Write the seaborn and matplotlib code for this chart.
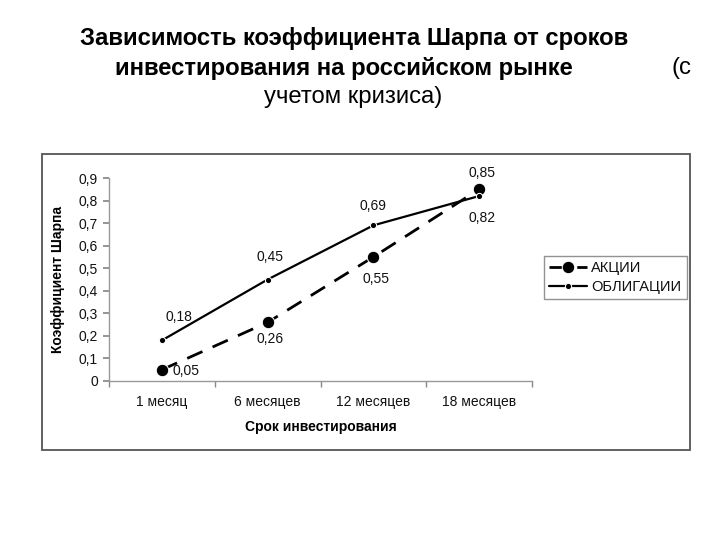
import matplotlib
matplotlib.use("Agg")
import matplotlib.pyplot as plt
import seaborn as sns
import pandas as pd
from matplotlib.patches import Rectangle
from matplotlib.ticker import FixedLocator

categories = ["1 месяц", "6 месяцев", "12 месяцев", "18 месяцев"]
stocks = [0.05, 0.26, 0.55, 0.85]
bonds = [0.18, 0.45, 0.69, 0.82]
yticks = [0, 0.1, 0.2, 0.3, 0.4, 0.5, 0.6, 0.7, 0.8, 0.9]
ytick_labels = ["0", "0,1", "0,2", "0,3", "0,4", "0,5", "0,6", "0,7", "0,8", "0,9"]

sns.set_theme(style="white")
plt.rcParams["font.family"] = ["Liberation Sans", "DejaVu Sans"]
plt.rcParams["text.color"] = "black"
plt.rcParams["axes.labelcolor"] = "black"

W, H = 720, 540
fig = plt.figure(figsize=(7.2, 5.4), dpi=100)

def fx(x):
    return x / W

def fy(y):
    return 1 - y / H

# outer frame
fig.patches.append(Rectangle((fx(41.5), fy(450)), fx(690) - fx(41.5), fy(154.5) - fy(450),
                             transform=fig.transFigure, fill=False, edgecolor="#555555", lw=1.3))

ax = fig.add_axes([fx(109), fy(381), fx(532) - fx(109), fy(178) - fy(381)])

df_s = pd.DataFrame({"cat": categories, "val": stocks})
df_b = pd.DataFrame({"cat": categories, "val": bonds})

sns.lineplot(data=df_s, x="cat", y="val", ax=ax, color="black", lw=2,
             marker="o", markersize=9, dashes=False, linestyle=(0, (6, 4)), label="АКЦИИ")
sns.lineplot(data=df_b, x="cat", y="val", ax=ax, color="black", lw=1.6,
             marker="o", markersize=4.5, label="ОБЛИГАЦИИ")

ax.set_xlim(-0.5, 3.5)
ax.set_ylim(0, 0.9)
ax.set_yticks(yticks)
ax.set_yticklabels(ytick_labels, fontsize=10)
ax.set_xticks(range(len(categories)))
ax.set_xticklabels(categories, fontsize=10)
ax.xaxis.set_minor_locator(FixedLocator([-0.5, 0.5, 1.5, 2.5, 3.5]))
ax.tick_params(axis="x", which="major", length=0, pad=10, labelcolor="#111111")
ax.tick_params(axis="x", which="minor", length=4, color="#888888", direction="out", bottom=True)
ax.tick_params(axis="y", length=4, color="#888888", direction="out", left=True, pad=4, labelcolor="#111111")
for s in ["top", "right"]:
    ax.spines[s].set_visible(False)
for s in ["left", "bottom"]:
    ax.spines[s].set_color("#999999")
    ax.spines[s].set_linewidth(1)

ax.set_xlabel("Срок инвестирования", fontsize=10, fontweight="bold", labelpad=8)
ax.set_ylabel("Коэффициент Шарпа", fontsize=10, fontweight="bold", labelpad=10)

# data labels
offs_s = [(8, -1), (2, -12), (2, -16), (2, 12)]
offs_b = [(12, 17), (2, 16), (0, 14), (2, -16)]
for i, (v, o) in enumerate(zip(stocks, offs_s)):
    ax.annotate(f"{v:.2f}".replace(".", ","), (i, v), xytext=o, textcoords="offset points",
                ha="left" if i == 0 else "center", va="center", fontsize=10, color="#111111")
for i, (v, o) in enumerate(zip(bonds, offs_b)):
    ax.annotate(f"{v:.2f}".replace(".", ","), (i, v), xytext=o, textcoords="offset points",
                ha="center", va="center", fontsize=10, color="#111111")

leg = ax.legend(loc="upper left", bbox_to_anchor=(fx(544), fy(256)), bbox_transform=fig.transFigure,
                frameon=True, fancybox=False, fontsize=10.5, borderaxespad=0, handlelength=2.6,
                handletextpad=0.3, borderpad=0.35, labelspacing=0.35)
leg.get_frame().set_edgecolor("#777777")
leg.get_frame().set_linewidth(1)
for t in leg.get_texts():
    t.set_color("#111111")

# title
fig.text(fx(354), fy(38), "Зависимость коэффициента Шарпа от сроков", ha="center", va="center",
         fontsize=17.2, fontweight="bold", color="black")
fig.text(fx(344), fy(68), "инвестирования на российском рынке", ha="center", va="center",
         fontsize=17.2, fontweight="bold", color="black")
fig.text(fx(681), fy(68), "(с", ha="center", va="center", fontsize=17.2, color="black")
fig.text(fx(353), fy(97), "учетом кризиса)", ha="center", va="center", fontsize=17.2, color="black")

fig.savefig("out.png", dpi=100)
